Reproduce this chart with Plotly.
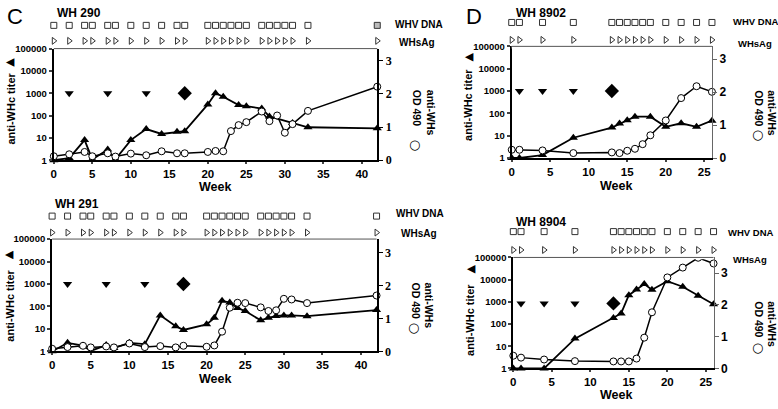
import plotly.graph_objects as go

W, H = 778, 409

# ---------------- data ----------------
# WH 290 (panel C, top)
c1_tri_weeks = [0, 2, 4, 5, 7, 8, 10, 12, 14, 16, 17, 20, 21, 22, 24, 25, 27, 28, 31, 33, 42]
c1_tri_vals = [1, 1.25, 8, 1.1, 3, 1.1, 8, 25, 15, 19, 20, 316, 1000, 700, 295, 265, 205, 92, 47, 30, 27]
c1_od_weeks = [0, 2, 4, 5, 7, 8, 10, 12, 14, 16, 17, 20, 21, 22, 23, 24, 25, 27, 28, 29, 30, 31, 33, 42]
c1_od_vals = [0.12, 0.18, 0.25, 0.12, 0.21, 0.11, 0.2, 0.15, 0.27, 0.21, 0.21, 0.25, 0.28, 0.27,
              0.88, 1.06, 1.15, 1.47, 1.18, 1.35, 0.83, 1.09, 1.49, 2.22]

# WH 291 (panel C, bottom)
c2_tri_weeks = [0, 2, 4, 5, 7, 8, 10, 12, 14, 16, 17, 20, 21, 22, 23, 24, 25, 27, 28, 29, 30, 31, 33, 42]
c2_tri_vals = [1, 2.4, 1.8, 1.05, 1.9, 1.4, 2.4, 2.1, 40, 13, 9, 16, 31, 180, 150, 85, 62, 24, 31, 38, 40, 40, 37, 69]
c2_od_weeks = [0, 2, 4, 5, 7, 8, 10, 12, 14, 16, 17, 20, 21, 22, 23, 24, 25, 27, 28, 29, 30, 31, 33, 42]
c2_od_vals = [0.08, 0.13, 0.17, 0.12, 0.15, 0.12, 0.24, 0.13, 0.16, 0.12, 0.17, 0.14, 0.18, 0.6,
              1.33, 1.48, 1.47, 1.34, 1.23, 1.25, 1.6, 1.58, 1.47, 1.7]

# WH 8902 (panel D, top)
d1_tri_weeks = [0, 1, 4, 8, 13, 14, 15, 16, 18, 20, 22, 24, 26]
d1_tri_vals = [1, 1, 1.35, 8.1, 23, 35, 49, 71, 71, 25, 36, 25, 47]
d1_od_weeks = [0, 1, 4, 8, 13, 14, 15, 16, 17, 18, 20, 22, 24, 26]
d1_od_vals = [0.25, 0.25, 0.23, 0.15, 0.17, 0.15, 0.22, 0.28, 0.42, 0.69, 1.14, 1.82, 2.18, 2.01]

# WH 8904 (panel D, bottom)
d2_tri_weeks = [0, 1, 4, 8, 13, 14, 15, 16, 17, 18, 20, 22, 24, 26]
d2_tri_vals = [1, 1, 1, 22, 185, 300, 2000, 3600, 6300, 3500, 8500, 4800, 1900, 780]
d2_od_weeks = [0, 1, 4, 8, 13, 14, 15, 16, 17, 18, 20, 22, 24, 26]
d2_od_vals = [0.40, 0.34, 0.28, 0.23, 0.22, 0.22, 0.22, 0.31, 0.97, 1.77, 2.87, 3.18, 3.49, 3.31]

# vaccinations (down triangles) and challenge (diamond)
c_vacc_weeks = [2, 7, 12]
c_chal_week = [17]
d_vacc_weeks = [1, 4, 8]
d_chal_week = [13]
vacc_level = [1000, 1000, 1000, 850]

# sampling weeks (WHV DNA / WHsAg rows)
c_sample_weeks = [0, 2, 4, 5, 7, 8, 10, 12, 14, 16, 17, 20, 21, 22, 23, 24, 25, 27, 28, 29, 30, 31, 33, 42]
d_sample_weeks = [0, 1, 4, 8, 13, 14, 15, 16, 17, 18, 20, 22, 24, 26]

log_ticks = [1, 10, 100, 1000, 10000, 100000]
log_ticktext = ["1", "10", "100", "1000", "10000", "100000"]
od_ticks = [0, 1, 2, 3]

# ---------------- layout helpers ----------------
def fx(p):
    return p / W

def fy(p):
    return 1 - p / H

SANS = "Liberation Sans, Arial, Helvetica, sans-serif"
SERIF = "Liberation Serif, Times New Roman, serif"

panels = [
    dict(title="WH 290", tri=(c1_tri_weeks, c1_tri_vals), od=(c1_od_weeks, c1_od_vals),
         vacc=c_vacc_weeks, chal=c_chal_week, samples=c_sample_weeks,
         x0=51, x1=375.7, yt=44, yb=159.3, dna=20, sag=36, xmax=42, rmax=3.37,
         xt=[0, 5, 10, 15, 20, 25, 30, 35, 40], rfont=SERIF, grayLast=True,
         rline=dict(linewidth=2, linecolor="black"), labsize=10,
         tpos=(52, 7), dnalab=(392, 19), saglab=(396, 38), week=(213, 187),
         ltitle=(8, 106), ltri=(6.5, 58), rt=(413, 85), rcirc=(413, 143)),
    dict(title="WH 291", tri=(c2_tri_weeks, c2_tri_vals), od=(c2_od_weeks, c2_od_vals),
         vacc=c_vacc_weeks, chal=c_chal_week, samples=c_sample_weeks,
         x0=49.3, x1=375, yt=240.7, yb=356.7, dna=217, sag=234, xmax=42, rmax=3.42,
         xt=[0, 5, 10, 15, 20, 25, 30, 35, 40], rfont=SERIF, grayLast=False,
         rline=dict(linewidth=2, linecolor="black"), labsize=10,
         tpos=(50, 205), dnalab=(393, 214), saglab=(398, 235), week=(213, 385),
         ltitle=(7.5, 309), ltri=(5.5, 257), rt=(412, 284), rcirc=(412, 332)),
    dict(title="WH 8902", tri=(d1_tri_weeks, d1_tri_vals), od=(d1_od_weeks, d1_od_vals),
         vacc=d_vacc_weeks, chal=d_chal_week, samples=d_sample_weeks,
         x0=510.7, x1=711.7, yt=41.7, yb=157, dna=17, sag=35, xmax=26, rmax=3.39,
         xt=[0, 5, 10, 15, 20, 25], rfont=SANS, grayLast=False,
         rline=dict(linewidth=1.2, linecolor="#666"), labsize=9.5,
         tpos=(513, 7), dnalab=(731, 16), saglab=(736, 39), week=(615, 186),
         ltitle=(467, 102), ltri=(467, 53), rt=(756, 85), rcirc=(757, 133)),
    dict(title="WH 8904", tri=(d2_tri_weeks, d2_tri_vals), od=(d2_od_weeks, d2_od_vals),
         vacc=d_vacc_weeks, chal=d_chal_week, samples=d_sample_weeks,
         x0=512.3, x1=713.3, yt=259.7, yb=374.3, dna=233, sag=252, xmax=26, rmax=3.5,
         xt=[0, 5, 10, 15, 20, 25], rfont=SANS, grayLast=False,
         rline=dict(linewidth=1.2, linecolor="#666"), labsize=9.5,
         tpos=(513, 223), dnalab=(726, 234), saglab=(731, 262), week=(615, 402),
         ltitle=(469, 324), ltri=(469, 272), rt=(756, 303), rcirc=(757, 353)),
]

fig = go.Figure()
layout = dict(width=W, height=H, margin=dict(l=0, r=0, t=0, b=0),
              paper_bgcolor="white", plot_bgcolor="white", showlegend=False,
              annotations=[], shapes=[])

def bold(size, family=SANS, color="black"):
    return dict(family=family, size=size, color=color, weight="bold")

for i, p in enumerate(panels):
    xa = "x" if i == 0 else f"x{i+1}"
    ya_log = f"y{3*i+1}" if i > 0 else "y"
    ya_od = f"y{3*i+2}"
    ya_row = f"y{3*i+3}"
    xkey = "xaxis" if i == 0 else f"xaxis{i+1}"
    ylkey = "yaxis" if i == 0 else f"yaxis{3*i+1}"
    yokey = f"yaxis{3*i+2}"
    yrkey = f"yaxis{3*i+3}"

    xdom = [fx(p["x0"]), fx(p["x1"])]
    ydom = [fy(p["yb"]), fy(p["yt"])]
    d = p["sag"] - p["dna"]
    rowdom = [fy(p["sag"] + 0.5 * d), fy(p["dna"] - 0.5 * d)]

    layout[xkey] = dict(domain=xdom, anchor=ya_log, range=[0, p["xmax"]], tickvals=p["xt"],
                        ticks="outside", ticklen=2, tickwidth=1.5, showline=True, linewidth=2,
                        linecolor="black", showgrid=False, zeroline=False,
                        tickfont=bold(11.5))
    layout[ylkey] = dict(domain=ydom, anchor=xa, type="log", range=[0, 5], tickvals=log_ticks,
                         ticktext=log_ticktext, ticks="outside", ticklen=3, tickwidth=1.5,
                         showline=True, linewidth=2, linecolor="black", showgrid=False,
                         zeroline=False, tickfont=bold(9.5))
    layout[yokey] = dict(overlaying=ya_log, anchor=xa, side="right", range=[0, p["rmax"]],
                         tickvals=od_ticks, ticks="outside", ticklen=4, tickwidth=1.2,
                         showline=True, showgrid=False, tickcolor=p["rline"]["linecolor"],
                         zeroline=False, tickfont=bold(12, p["rfont"]), **p["rline"])
    layout[yrkey] = dict(domain=rowdom, anchor=xa, range=[-0.5, 1.5], visible=False)

    # top border
    layout["shapes"].append(dict(type="line", xref="paper", yref="paper",
                                 x0=fx(p["x0"]), x1=fx(p["x1"]), y0=fy(p["yt"]), y1=fy(p["yt"]),
                                 line=dict(color="#555", width=1)))

    tw, tv = p["tri"]
    ow, ov = p["od"]
    fig.add_trace(go.Scatter(x=tw, y=tv, mode="lines+markers", xaxis=xa, yaxis=ya_log,
                             line=dict(color="black", width=1.8),
                             marker=dict(symbol="triangle-up", size=8, color="black"),
                             cliponaxis=False))
    fig.add_trace(go.Scatter(x=ow, y=ov, mode="lines+markers", xaxis=xa, yaxis=ya_od,
                             line=dict(color="black", width=1.5),
                             marker=dict(symbol="circle", size=7, color="white",
                                         line=dict(color="black", width=1)),
                             cliponaxis=False))
    lvl = vacc_level[i]
    fig.add_trace(go.Scatter(x=p["vacc"], y=[lvl] * len(p["vacc"]), mode="markers",
                             xaxis=xa, yaxis=ya_log,
                             marker=dict(symbol="triangle-down", size=8, color="black")))
    fig.add_trace(go.Scatter(x=p["chal"], y=[lvl] * len(p["chal"]), mode="markers",
                             xaxis=xa, yaxis=ya_log,
                             marker=dict(symbol="diamond", size=11, color="black")))

    # sampling rows
    sw = p["samples"]
    sq_fill = ["#bbbbbb" if (p["grayLast"] and k == len(sw) - 1) else "rgba(0,0,0,0)" for k in range(len(sw))]
    fig.add_trace(go.Scatter(x=sw, y=[1] * len(sw), mode="markers", xaxis=xa, yaxis=ya_row,
                             marker=dict(symbol="square", size=6, color=sq_fill,
                                         line=dict(color="#333", width=1)),
                             cliponaxis=False))
    fig.add_trace(go.Scatter(x=sw, y=[0] * len(sw), mode="markers", xaxis=xa, yaxis=ya_row,
                             marker=dict(symbol="triangle-right-open", size=6, color="#333",
                                         line=dict(width=1)),
                             cliponaxis=False))

    A = layout["annotations"]
    A.append(dict(text=p["title"], x=fx(p["tpos"][0]), y=fy(p["tpos"][1]), xref="paper", yref="paper",
                  xanchor="left", yanchor="middle", showarrow=False, font=bold(12)))
    A.append(dict(text="WHV DNA", x=fx(p["dnalab"][0]), y=fy(p["dnalab"][1]), xref="paper", yref="paper",
                  xanchor="left", yanchor="middle", showarrow=False, font=bold(p["labsize"])))
    A.append(dict(text="WHsAg", x=fx(p["saglab"][0]), y=fy(p["saglab"][1]), xref="paper", yref="paper",
                  xanchor="left", yanchor="middle", showarrow=False, font=bold(p["labsize"])))
    A.append(dict(text="Week", x=fx(p["week"][0]), y=fy(p["week"][1]), xref="paper", yref="paper",
                  xanchor="center", yanchor="middle", showarrow=False, font=bold(12.5)))
    A.append(dict(text="anti-WHc titer", x=fx(p["ltitle"][0]), y=fy(p["ltitle"][1]), xref="paper",
                  yref="paper", xanchor="center", yanchor="middle", textangle=-90, showarrow=False,
                  font=bold(11)))
    A.append(dict(text="▲", x=fx(p["ltri"][0]), y=fy(p["ltri"][1]), xref="paper",
                  yref="paper", xanchor="center", yanchor="middle", textangle=-90, showarrow=False,
                  font=dict(family="DejaVu Sans", size=11, color="black")))
    A.append(dict(text="anti-WHs<br>OD 490", x=fx(p["rt"][0] - 6), y=fy(p["rt"][1]), xref="paper",
                  yref="paper", xanchor="left", yanchor="top", textangle=90, align="left",
                  showarrow=False, font=bold(10.5)))
    A.append(dict(text="○", x=fx(p["rcirc"][0]), y=fy(p["rcirc"][1]), xref="paper",
                  yref="paper", xanchor="center", yanchor="middle", showarrow=False,
                  font=dict(family="DejaVu Sans", size=13, color="black")))

layout["annotations"].append(dict(text="C", x=fx(2), y=fy(11), xref="paper", yref="paper",
                                  xanchor="left", yanchor="middle", showarrow=False,
                                  font=dict(family=SANS, size=22, color="black")))
layout["annotations"].append(dict(text="D", x=fx(463), y=fy(11), xref="paper", yref="paper",
                                  xanchor="left", yanchor="middle", showarrow=False,
                                  font=dict(family=SANS, size=22, color="black")))

fig.update_layout(**layout)
fig.write_html("out.html", config={"displayModeBar": False},
               post_script="document.body.style.margin='0';document.body.style.padding='0';")
